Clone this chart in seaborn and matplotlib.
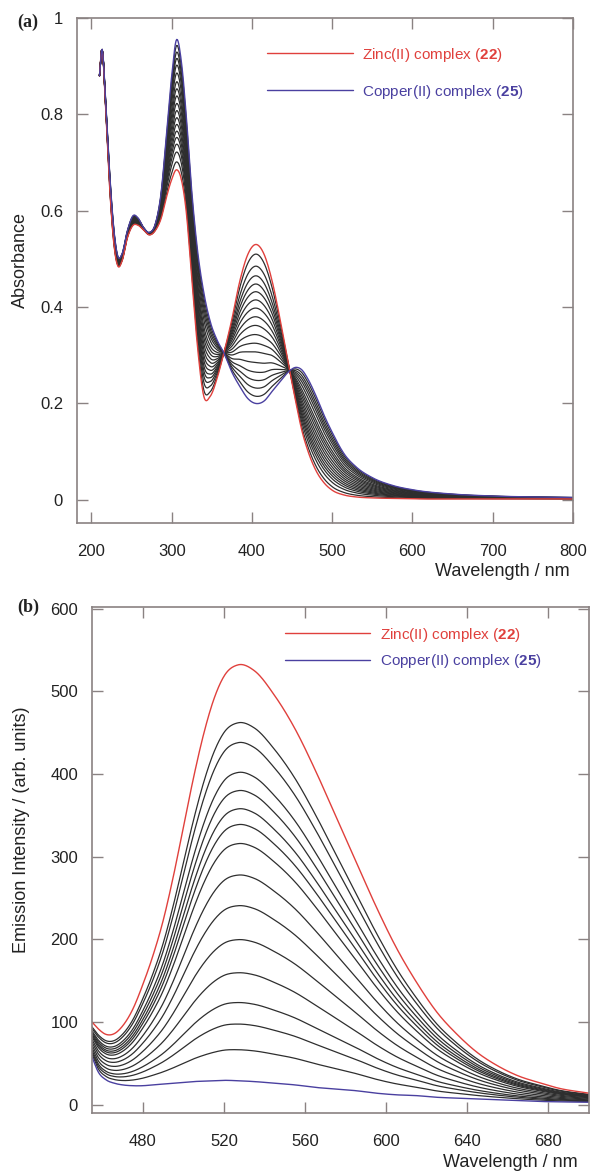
import numpy as np
import pandas as pd
import matplotlib
matplotlib.use("Agg")
import matplotlib.pyplot as plt
from matplotlib.lines import Line2D
import seaborn as sns

# ---------------- data: panel (a) UV-vis titration ----------------
wl_a = [210, 213, 218, 223, 228, 233, 238, 245, 252, 258, 265, 272, 280, 287, 293,
        300, 306, 312, 318, 325, 332, 340, 348, 357, 365, 375, 385, 395, 405, 415,
        425, 435, 447, 455, 462, 470, 480, 490, 500, 515, 530, 550, 575, 600, 650,
        700, 800]
zinc_abs = [0.88, 0.935, 0.80, 0.64, 0.53, 0.485, 0.495, 0.545, 0.57, 0.57, 0.56, 0.55,
            0.56, 0.585, 0.625, 0.665, 0.685, 0.665, 0.60, 0.46, 0.32, 0.215, 0.215,
            0.255, 0.305, 0.375, 0.455, 0.51, 0.53, 0.51, 0.455, 0.375, 0.268, 0.20,
            0.145, 0.10, 0.06, 0.035, 0.02, 0.01, 0.006, 0.004, 0.003, 0.002, 0.002,
            0.002, 0.002]
copper_abs = [0.88, 0.935, 0.82, 0.67, 0.56, 0.505, 0.51, 0.56, 0.59, 0.585, 0.565, 0.555,
              0.575, 0.64, 0.75, 0.88, 0.955, 0.91, 0.80, 0.64, 0.52, 0.43, 0.37, 0.33,
              0.305, 0.265, 0.235, 0.21, 0.20, 0.205, 0.225, 0.245, 0.268, 0.275, 0.27,
              0.25, 0.215, 0.175, 0.14, 0.095, 0.068, 0.046, 0.03, 0.021, 0.012, 0.008,
              0.005]
# absorbance at 405 nm of each intermediate (black) titration curve
titr_abs405 = [0.51, 0.485, 0.465, 0.448, 0.432, 0.415, 0.398, 0.38, 0.362, 0.343,
               0.325, 0.307, 0.285, 0.265, 0.248, 0.232, 0.215]

# ---------------- data: panel (b) emission titration ----------------
wl_b = [455, 458, 462, 466, 470, 475, 480, 485, 490, 495, 500, 505, 510, 515, 520, 527,
        535, 545, 555, 565, 575, 585, 595, 605, 615, 625, 635, 645, 655, 665, 675, 685, 700]
zinc_em = [100, 92, 85, 86, 95, 115, 145, 180, 222, 275, 335, 395, 448, 490, 518, 532,
           525, 495, 455, 405, 350, 295, 240, 190, 148, 112, 85, 63, 47, 35, 27, 20, 14]
copper_em = [58, 40, 30, 26, 24, 23, 23, 24, 25, 26, 27, 28, 28.5, 29, 29.5, 29, 28, 26,
             24, 21, 19, 17, 14, 12, 11, 9, 8, 7, 6, 5, 4, 3.5, 3]
# peak emission of each intermediate (black) titration curve
titr_em_peak = [462, 438, 402, 380, 358, 339, 316, 278, 241, 200, 160, 124, 98, 67]

xticks_a = [200, 300, 400, 500, 600, 700, 800]
yticks_a = [0, 0.2, 0.4, 0.6, 0.8, 1.0]
yticklabels_a = ["0", "0.2", "0.4", "0.6", "0.8", "1"]
xticks_b = [480, 520, 560, 600, 640, 680]
yticks_b = [0, 100, 200, 300, 400, 500, 600]

legend_labels = ["Zinc(II) complex ($\\mathbf{22}$)", "Copper(II) complex ($\\mathbf{25}$)"]

# ---------------- helpers ----------------
def smooth(xn, yn, xs):
    xn = np.asarray(xn, float)
    yn = np.asarray(yn, float)
    m = np.gradient(yn, xn)
    i = np.clip(np.searchsorted(xn, xs, side="right") - 1, 0, len(xn) - 2)
    h = xn[i + 1] - xn[i]
    t = (xs - xn[i]) / h
    h00 = 2 * t**3 - 3 * t**2 + 1
    h10 = t**3 - 2 * t**2 + t
    h01 = -2 * t**3 + 3 * t**2
    h11 = t**3 - t**2
    return h00 * yn[i] + h10 * h * m[i] + h01 * yn[i + 1] + h11 * h * m[i + 1]


def build_frames(wl, zinc, copper, key_vals, key_zinc, key_copper, n=700):
    xs = np.linspace(wl[0], wl[-1], n)
    z = smooth(wl, zinc, xs)
    c = smooth(wl, copper, xs)
    rows = []
    for k, v in enumerate(key_vals):
        f = (key_zinc - v) / (key_zinc - key_copper)
        rows.append(pd.DataFrame({"wl": xs, "val": (1 - f) * z + f * c, "curve": k}))
    black = pd.concat(rows, ignore_index=True)
    zdf = pd.DataFrame({"wl": xs, "val": z})
    cdf = pd.DataFrame({"wl": xs, "val": c})
    return black, zdf, cdf


# ---------------- style ----------------
sns.set_theme(style="ticks")
plt.rcParams["font.family"] = ["Liberation Sans", "DejaVu Sans"]
plt.rcParams["mathtext.fontset"] = "custom"
plt.rcParams["mathtext.rm"] = "Liberation Sans"
plt.rcParams["mathtext.bf"] = "Liberation Sans:bold"

RED = "#e0403c"
BLUE = "#4a40a0"
BLACK = "#2e2e2e"
SPINE = "#8a8282"
TXT = "#222222"

fig = plt.figure(figsize=(5.9, 11.71), dpi=100)
ax_a = fig.add_axes([77 / 590, 1 - 523 / 1171, 496 / 590, 505 / 1171])
ax_b = fig.add_axes([92 / 590, 1 - 1113 / 1171, 497 / 590, 506 / 1171])


def style(ax):
    for s in ax.spines.values():
        s.set_color(SPINE)
        s.set_linewidth(1.2)
    ax.tick_params(direction="in", length=8, width=1, color=SPINE, top=True, right=True,
                   labelsize=12, labelcolor=TXT)
    ax.tick_params(axis="x", pad=15)
    ax.tick_params(axis="y", pad=10)


# ---------------- panel (a) ----------------
black_a, z_a, c_a = build_frames(wl_a, zinc_abs, copper_abs, titr_abs405, 0.53, 0.20)
sns.lineplot(data=black_a, x="wl", y="val", units="curve", estimator=None, color=BLACK,
             lw=0.9, ax=ax_a, legend=False)
sns.lineplot(data=z_a, x="wl", y="val", color=RED, lw=1.0, ax=ax_a)
sns.lineplot(data=c_a, x="wl", y="val", color=BLUE, lw=1.0, ax=ax_a)
ax_a.set_xlim(182, 800)
ax_a.set_ylim(-0.048, 1.0)
ax_a.set_xticks(xticks_a)
ax_a.set_yticks(yticks_a)
ax_a.set_yticklabels(yticklabels_a)
style(ax_a)
ax_a.set_ylabel("Absorbance", fontsize=13, color=TXT)
ax_a.yaxis.set_label_coords(-0.097, 0.52)
ax_a.set_xlabel("Wavelength / nm", fontsize=13, color=TXT)
ax_a.xaxis.label.set_ha("right")
ax_a.xaxis.set_label_coords(0.994, -0.079)
handles = [Line2D([], [], color=RED, lw=1.0), Line2D([], [], color=BLUE, lw=1.0)]
ax_a.legend(handles, legend_labels, loc="upper left", bbox_to_anchor=(0.383, 0.9455),
            frameon=False, fontsize=11, handlelength=5.6, handletextpad=0.65,
            labelspacing=1.25, borderpad=0, borderaxespad=0, labelcolor=[RED, BLUE])

# ---------------- panel (b) ----------------
black_b, z_b, c_b = build_frames(wl_b, zinc_em, copper_em, titr_em_peak, 532, 29.5)
sns.lineplot(data=black_b, x="wl", y="val", units="curve", estimator=None, color=BLACK,
             lw=0.9, ax=ax_b, legend=False)
sns.lineplot(data=z_b, x="wl", y="val", color=RED, lw=1.0, ax=ax_b)
sns.lineplot(data=c_b, x="wl", y="val", color=BLUE, lw=1.0, ax=ax_b)
ax_b.set_xlim(455, 700)
ax_b.set_ylim(-10, 602)
ax_b.set_xticks(xticks_b)
ax_b.set_yticks(yticks_b)
style(ax_b)
ax_b.set_ylabel("Emission Intensity / (arb. units)", fontsize=13, color=TXT)
ax_b.yaxis.set_label_coords(-0.125, 0.56)
ax_b.set_xlabel("Wavelength / nm", fontsize=13, color=TXT)
ax_b.xaxis.label.set_ha("right")
ax_b.xaxis.set_label_coords(0.978, -0.081)
ax_b.legend(handles, legend_labels, loc="upper left", bbox_to_anchor=(0.388, 0.9634),
            frameon=False, fontsize=11, handlelength=5.6, handletextpad=0.65,
            labelspacing=0.55, borderpad=0, borderaxespad=0, labelcolor=[RED, BLUE])

fig.text(17 / 590, 1 - 22 / 1171, "(a)", family="Liberation Serif", fontsize=13,
         weight="bold", color=TXT, ha="left", va="center")
fig.text(17 / 590, 1 - 607 / 1171, "(b)", family="Liberation Serif", fontsize=13,
         weight="bold", color=TXT, ha="left", va="center")

fig.savefig("out.png", dpi=100, facecolor="white")
